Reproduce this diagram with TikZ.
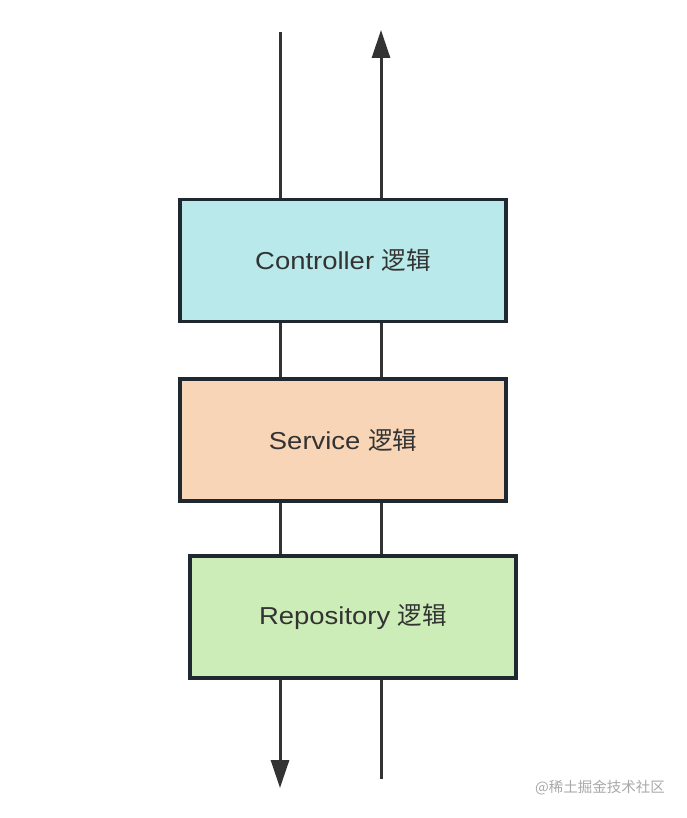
\documentclass[tikz,border=0pt]{standalone}
\usepackage{fontspec}
\setmainfont{Liberation Sans}[FakeStretch=1.12]
\newfontfamily\cjk{Noto Sans CJK SC}
\usetikzlibrary{arrows.meta}
\definecolor{linec}{HTML}{333333}
\definecolor{borderc}{HTML}{1F2831}
\definecolor{ctrlc}{HTML}{B9E9EA}
\definecolor{servc}{HTML}{F8D5B7}
\definecolor{repoc}{HTML}{CCEDB8}
\definecolor{textc}{HTML}{333333}
\definecolor{wmc}{HTML}{A8A8A8}
\tikzset{
  layerbox/.style={draw=borderc, line width=3.2pt, rectangle, minimum width=326pt, minimum height=122pt, inner sep=0pt, text=textc, font=\fontsize{24.5}{28}\selectfont},
  flow/.style={draw=linec, line width=3pt},
  flowarr/.style={flow, -{Triangle[length=28pt,width=18pt]}}
}
\begin{document}
\begin{tikzpicture}[x=1pt,y=-1pt]
\useasboundingbox (0,0) rectangle (686,818);
\coordinate (ltop) at (280,32);
\coordinate (lbot) at (280,788);
\coordinate (rbot) at (381,779);
\coordinate (rtop) at (381,30);
\draw[flowarr] (ltop) -- (lbot);
\draw[flowarr] (rbot) -- (rtop);
\node[layerbox, fill=ctrlc] (ctrl) at (343,260.5) {Controller {\cjk 逻辑}};
\node[layerbox, fill=servc] (serv) at (343,440) {Service {\cjk 逻辑}};
\node[layerbox, fill=repoc] (repo) at (353,617) {Repository {\cjk 逻辑}};
\node[text=wmc, font=\cjk\fontsize{14.5}{16}\selectfont, anchor=east, inner sep=0pt] (wm) at (665,788) {@稀土掘金技术社区};
\end{tikzpicture}
\end{document}
